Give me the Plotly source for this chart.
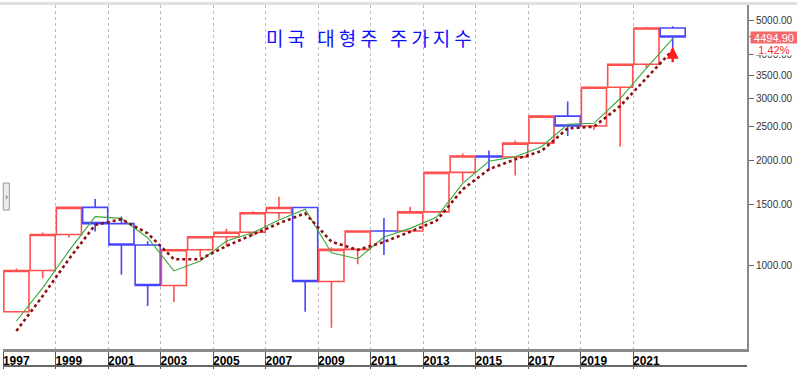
import math
import plotly.graph_objects as go

# ---------------- data ----------------
years = list(range(1997, 2023))
opens = [740.74, 970.43, 1229.23, 1469.25, 1320.28, 1148.08, 879.82, 1111.92, 1211.92,
         1248.29, 1418.30, 1468.36, 903.25, 1115.10, 1257.64, 1257.60, 1426.19, 1848.36,
         2058.90, 2043.94, 2238.83, 2673.61, 2506.85, 3230.78, 3756.07, 4766.18]
highs = [983.79, 1244.93, 1473.10, 1552.87, 1383.37, 1176.97, 1112.56, 1217.33, 1275.80,
         1431.81, 1576.09, 1471.77, 1130.38, 1262.60, 1370.58, 1474.51, 1849.44, 2093.55,
         2134.72, 2277.53, 2694.97, 2940.91, 3247.93, 3760.20, 4808.93, 4818.62]
lows = [737.01, 923.32, 1205.46, 1254.07, 944.75, 768.63, 788.90, 1060.72, 1136.15,
        1219.29, 1363.98, 741.02, 666.79, 1010.91, 1074.77, 1257.60, 1426.19, 1737.92,
        1867.01, 1810.10, 2238.83, 2346.58, 2443.96, 2191.86, 3662.71, 4114.65]
closes = [970.43, 1229.23, 1469.25, 1320.28, 1148.08, 879.82, 1111.92, 1211.92, 1248.29,
          1418.30, 1468.36, 903.25, 1115.10, 1257.64, 1257.60, 1426.19, 1848.36, 2058.90,
          2043.94, 2238.83, 2673.61, 2506.85, 3230.78, 3756.07, 4766.18, 4494.90]

ma_green = [697, 866, 1104, 1382, 1367, 1204, 968, 1033, 1178, 1244, 1352, 1451, 1091,
            1047, 1209, 1280, 1376, 1720, 1988, 2048, 2187, 2535, 2550, 3001, 3665, 4447]
ma_dotted = [653, 821, 1047, 1309, 1359, 1239, 1045, 1045, 1140, 1226, 1323, 1413, 1173,
             1111, 1171, 1252, 1346, 1654, 1886, 2014, 2126, 2468, 2494, 2856, 3432, 4124]

x_ticks = list(range(1997, 2022, 2))
x_tick_labels = [str(y) for y in x_ticks]
y_ticks = [1000, 1500, 2000, 2500, 3000, 3500, 4000, 4500, 5000]
y_tick_labels = [f"{v:.2f}" for v in y_ticks]

title_text = "미국 대형주 주가지수"
last_value = closes[-1]
last_change = "1.42%"
arrow_tip = 4215

# ---------------- figure ----------------
xc = [y + 0.5 for y in years]
RED = "#ff5050"
BLUE = "#4646ff"

fig = go.Figure()
fig.add_trace(go.Candlestick(
    x=xc, open=opens, high=highs, low=lows, close=closes,
    increasing=dict(line=dict(color=RED, width=1.6), fillcolor="white"),
    decreasing=dict(line=dict(color=BLUE, width=1.6), fillcolor="white"),
    whiskerwidth=0, showlegend=False, hoverinfo="skip",
))
fig.add_trace(go.Scatter(
    x=xc, y=ma_green, mode="lines",
    line=dict(color="#3aa83a", width=1.1), showlegend=False, hoverinfo="skip",
))
fig.add_trace(go.Scatter(
    x=xc, y=ma_dotted, mode="lines",
    line=dict(color="#8b1010", width=2.6, dash="dot"), showlegend=False, hoverinfo="skip",
))

L, R, T, B = 3, 50, 5, 24
PW = 797 - L - R
PH = 373 - T - B

annotations = [
    dict(xref="paper", yref="paper", x=(371 - L) / PW, y=(349 - 38) / PH,
         text=f'<span style="letter-spacing:4px">{title_text}</span>',
         showarrow=False, xanchor="center", yanchor="middle",
         font=dict(family="Noto Sans CJK KR", size=19, color="#1010ff")),
    dict(xref="paper", yref="paper", x=(773.5 - L) / PW, y=(349 - 37.2) / PH,
         text=f"{last_value:.2f}", showarrow=False, xanchor="center", yanchor="middle",
         bgcolor="#f46a6a", width=46, height=11, borderpad=0,
         font=dict(family="Liberation Sans", size=11, color="white")),
    dict(xref="paper", yref="paper", x=(774 - L) / PW, y=(349 - 49.5) / PH,
         text=last_change, showarrow=False, xanchor="center", yanchor="middle",
         bgcolor="white", width=40, height=10, borderpad=0,
         font=dict(family="Liberation Sans", size=11, color="#ff2a2a")),
    dict(x=years[-1] + 0.5, y=math.log10(arrow_tip), xref="x", yref="y",
         text="", showarrow=True, ax=0, ay=17, arrowhead=2, arrowsize=1.0,
         arrowwidth=2.4, arrowcolor="#ff1a1a", standoff=0),
    dict(xref="paper", yref="paper", x=0.0045, y=(349 - 196.5) / PH,
         text="›", showarrow=False, xanchor="center", yanchor="middle",
         font=dict(family="Liberation Sans", size=9, color="#333")),
]

shapes = [
    dict(type="line", xref="paper", yref="paper", x0=-0.01, x1=1.07,
         y0=1 + 1.5 / PH, y1=1 + 1.5 / PH, line=dict(color="#e0e0e0", width=3)),
    dict(type="line", xref="paper", yref="paper", x0=0, x1=1,
         y0=-(366 - 349) / PH, y1=-(366 - 349) / PH, line=dict(color="#666", width=2)),
    dict(type="rect", xref="paper", yref="paper", x0=0.0004, x1=0.0085,
         y0=(349 - 210) / PH, y1=(349 - 183) / PH,
         fillcolor="#ececec", line=dict(color="#999", width=1)),
]

fig.update_layout(
    template="none",
    width=797, height=373,
    margin=dict(l=L, r=R, t=T, b=B, autoexpand=False),
    paper_bgcolor="white", plot_bgcolor="white",
    boxgap=0.045, boxgroupgap=0,
    annotations=annotations, shapes=shapes,
    xaxis=dict(
        range=[1996.989, 2025.33], rangeslider=dict(visible=False),
        tickmode="array", tickvals=x_ticks, ticktext=x_tick_labels,
        showgrid=True, gridcolor="#bdbdbd", griddash="3px,3px", gridwidth=1,
        showline=True, linecolor="#8a8a8a", linewidth=2.5,
        ticks="outside", ticklen=17, tickcolor="#555", tickwidth=1,
        ticklabelshift=13, ticklabelstandoff=-18,
        tickfont=dict(family="Liberation Sans", size=12, color="black", weight="bold"),
        zeroline=False, fixedrange=True, automargin=False,
    ),
    yaxis=dict(
        type="log", side="right",
        range=[math.log10(580), math.log10(5543)],
        tickmode="array", tickvals=y_ticks, ticktext=y_tick_labels,
        showgrid=False, zeroline=False,
        showline=True, linecolor="#8a8a8a", linewidth=2,
        ticks="outside", ticklen=5, tickcolor="#666",
        tickfont=dict(family="Liberation Sans", size=10, color="#333"),
        automargin=False,
    ),
)

fig.write_html(
    "out.html",
    config={"displayModeBar": False},
    post_script="document.body.style.margin='0';document.body.style.overflow='hidden';",
)
